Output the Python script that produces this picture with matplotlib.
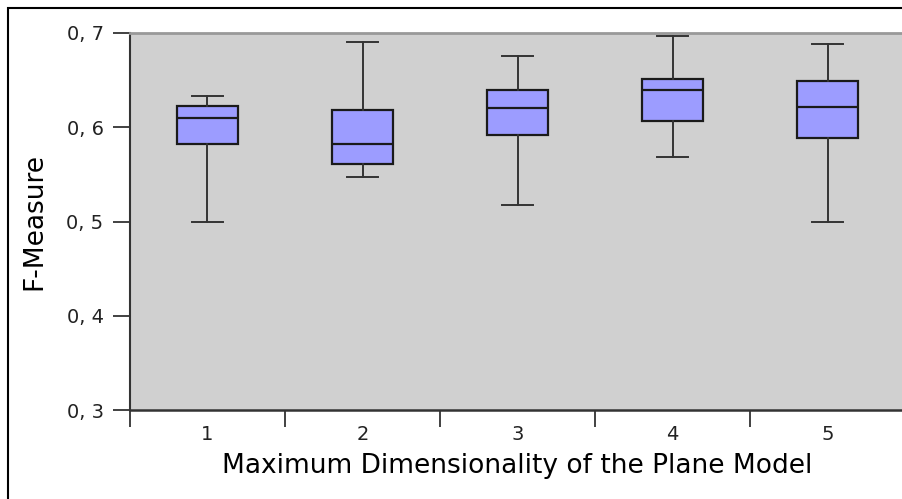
import numpy as np
import matplotlib
matplotlib.use('Agg')
import matplotlib.pyplot as plt
from matplotlib.patches import Rectangle
from matplotlib.ticker import FuncFormatter

# box statistics
categories = ['1', '2', '3', '4', '5']
whis_low = [0.500, 0.547, 0.517, 0.568, 0.500]
q1 = [0.582, 0.561, 0.592, 0.607, 0.589]
median = [0.610, 0.582, 0.620, 0.639, 0.622]
q3 = [0.623, 0.618, 0.639, 0.651, 0.649]
whis_high = [0.633, 0.690, 0.676, 0.697, 0.688]

W, H = 903, 499
fig = plt.figure(figsize=(W / 100, H / 100), dpi=100)
ax = fig.add_axes([130 / W, (H - 410) / H, 775 / W, 377 / H])
ax.set_facecolor('#d0d0d0')

stats = []
for i, c in enumerate(categories):
    stats.append(dict(label=c, whislo=whis_low[i], q1=q1[i], med=median[i],
                      q3=q3[i], whishi=whis_high[i], fliers=[]))

positions = np.arange(1, len(categories) + 1)
ax.bxp(stats, positions=positions, widths=0.394, patch_artist=True,
       showfliers=False,
       boxprops=dict(facecolor='#9c9cff', edgecolor='#1a1a1a', linewidth=1.6),
       medianprops=dict(color='#1a1a1a', linewidth=1.6),
       whiskerprops=dict(color='#333333', linewidth=1.4),
       capprops=dict(color='#333333', linewidth=1.4),
       capwidths=0.2)

ax.set_xlim(0.5, len(categories) + 0.5)
ax.set_ylim(0.3, 0.7)
ax.set_yticks([0.3, 0.4, 0.5, 0.6, 0.7])
ax.yaxis.set_major_formatter(FuncFormatter(lambda v, p: ('%.1f' % v).replace('.', ', ')))

# labels at the centres, tick marks between categories
ax.set_xticks(positions)
ax.set_xticklabels(categories)
ax.set_xticks(np.arange(0.5, len(categories) + 1, 1.0), minor=True)
ax.tick_params(axis='x', which='major', length=0, pad=11, labelsize=14, colors='#222222')
ax.tick_params(axis='x', which='minor', length=12, width=1.3, color='#333333')
ax.tick_params(axis='y', length=12, width=1.3, color='#333333', pad=7, labelsize=14,
               labelcolor='#222222')

ax.spines['right'].set_visible(False)
ax.spines['top'].set_color('#999999')
ax.spines['top'].set_linewidth(2)
ax.spines['left'].set_color('#333333')
ax.spines['left'].set_linewidth(1.5)
ax.spines['bottom'].set_color('#333333')
ax.spines['bottom'].set_linewidth(1.8)

ax.set_xlabel('Maximum Dimensionality of the Plane Model', fontsize=19, labelpad=6)
ax.set_ylabel('F-Measure', fontsize=19, labelpad=14)

# outer frame of the picture
fig.patches.append(Rectangle((8 / W, -0.1), 1.2, (H - 8) / H + 0.1, transform=fig.transFigure,
                             fill=False, edgecolor='black', linewidth=1.5))

fig.savefig('out.png', dpi=100)
